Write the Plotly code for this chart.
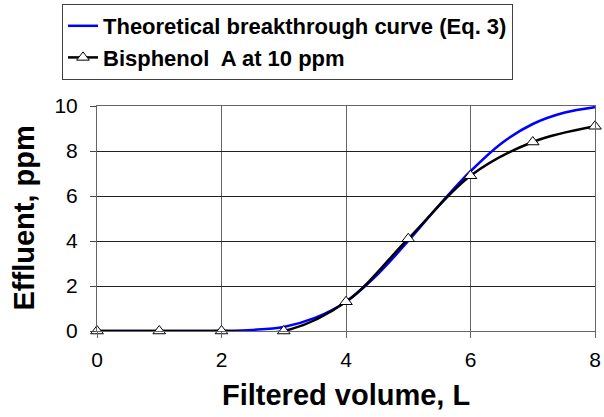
import plotly.graph_objects as go

# Theoretical breakthrough curve (Eq. 3)
theo_x = [0, 0.5, 1, 1.5, 2, 2.5, 3, 3.5, 4, 4.5, 5, 5.5, 6, 6.5, 7, 7.5, 8]
theo_y = [0, 0, 0, 0, 0.01, 0.05, 0.18, 0.58, 1.3, 2.5, 4.0, 5.6, 7.1, 8.35, 9.2, 9.7, 9.95]

# Bisphenol A at 10 ppm
bpa_x = [0, 1, 2, 3, 4, 5, 6, 7, 8]
bpa_y = [0, 0, 0, 0, 1.3, 4.1, 6.9, 8.4, 9.1]

x_ticks = [0, 2, 4, 6, 8]
y_ticks = [0, 2, 4, 6, 8, 10]

FONT = "Liberation Sans, Arial, sans-serif"

W, H = 604, 417
ML, MR, MT, MB = 97, 9, 106, 86
PW, PH = W - ML - MR, H - MT - MB

fig = go.Figure()
fig.add_trace(go.Scatter(
    x=theo_x, y=theo_y, mode="lines",
    line=dict(color="#0000ff", width=2.5, shape="spline", smoothing=1.0),
    name="<b>Theoretical breakthrough curve (Eq. 3)</b>",
))
fig.add_trace(go.Scatter(
    x=bpa_x, y=bpa_y, mode="lines+markers",
    line=dict(color="#000000", width=2.5, shape="spline", smoothing=1.0),
    marker=dict(symbol="triangle-up", size=11, color="white",
                line=dict(color="black", width=1)),
    name="<b>Bisphenol  A at 10 ppm</b>",
    cliponaxis=False,
))

fig.update_layout(
    width=W, height=H,
    margin=dict(l=ML, r=MR, t=MT, b=MB, autoexpand=False),
    paper_bgcolor="white", plot_bgcolor="white",
    font=dict(family=FONT, color="black", size=21),
    showlegend=True,
    legend=dict(
        xref="container", yref="container",
        x=62/W, y=1 - 4/H, xanchor="left", yanchor="top",
        bgcolor="white", bordercolor="#404040", borderwidth=1,
        font=dict(size=22, family=FONT, color="black"),
        tracegroupgap=0, itemwidth=30,
    ),
    xaxis=dict(
        range=[0, 8], tickvals=x_ticks, ticktext=[str(v) for v in x_ticks],
        showgrid=True, gridcolor="#666666", gridwidth=1,
        showline=True, linecolor="#666666", linewidth=1, mirror=True,
        ticks="outside", ticklen=6, tickcolor="#666666",
        ticklabelstandoff=4,
        zeroline=False,
        tickfont=dict(size=21),
    ),
    yaxis=dict(
        range=[0, 10], tickvals=y_ticks, ticktext=[str(v) for v in y_ticks],
        showgrid=True, gridcolor="#222222", gridwidth=1,
        showline=True, linecolor="#666666", linewidth=1, mirror=True,
        ticks="outside", ticklen=6, tickcolor="#444444",
        ticklabelstandoff=8,
        zeroline=False,
        tickfont=dict(size=21),
    ),
    annotations=[
        dict(text="<b>Filtered volume, L</b>", xref="paper", yref="paper",
             x=0.5, y=(H - MB - 395) / PH, xanchor="center", yanchor="middle",
             showarrow=False, font=dict(size=29, family=FONT, color="black")),
        dict(text="<b>Effluent, ppm</b>", xref="paper", yref="paper",
             x=(23 - ML) / PW, y=0.5, xanchor="center", yanchor="middle", textangle=-90,
             showarrow=False, font=dict(size=29, family=FONT, color="black")),
    ],
)

fig.write_html("out.html")
